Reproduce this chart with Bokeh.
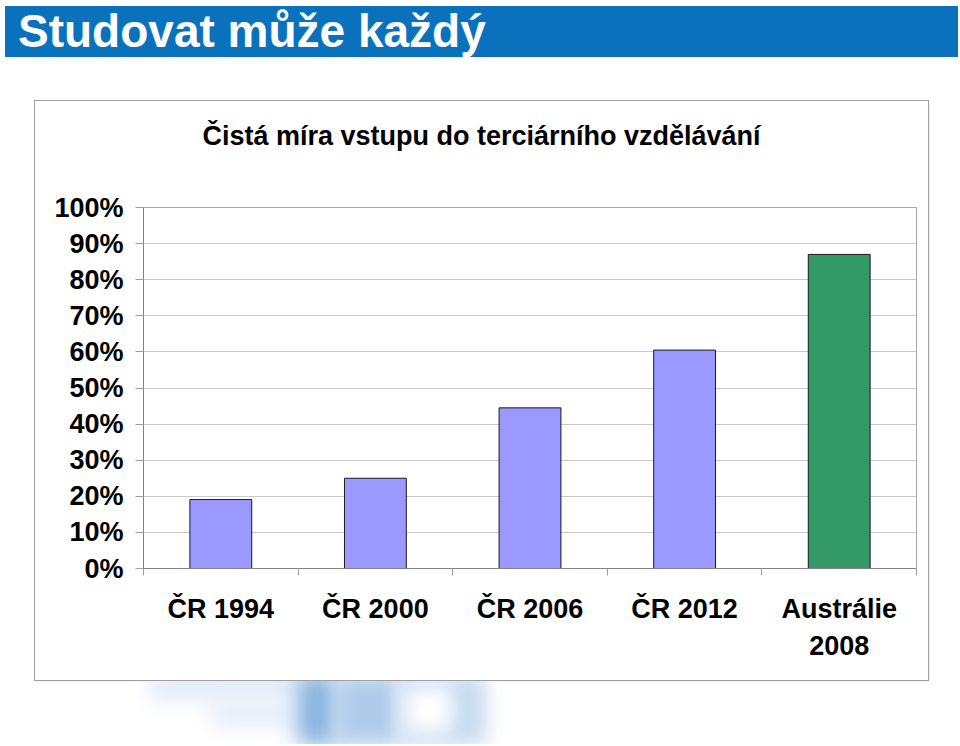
from bokeh.plotting import figure
from bokeh.models import (FactorRange, Range1d, LinearAxis, CategoricalAxis, FixedTicker,
                          NumeralTickFormatter, ColumnDataSource, Div)
from bokeh.layouts import column
from bokeh.embed import file_html
from bokeh.resources import INLINE

# ---- data ----
categories = ["ČR 1994", "ČR 2000", "ČR 2006", "ČR 2012", "Austrálie\n2008"]
values = [0.191, 0.25, 0.445, 0.605, 0.87]
bar_colors = ["#9999FF", "#9999FF", "#9999FF", "#9999FF", "#339966"]
y_ticks = [0, 0.1, 0.2, 0.3, 0.4, 0.5, 0.6, 0.7, 0.8, 0.9, 1.0]
page_title = "Studovat může každý"
chart_title = "Čistá míra vstupu do terciárního vzdělávání"

FONT = "Liberation Sans"

# ---- title bar ----
title_div = Div(
    text=('<div style="position:relative;width:953px;height:51px;background:#0A72BD;'
          'margin:0;padding:0;">'
          '<span style="position:absolute;left:13px;top:0px;line-height:51px;'
          'font-family:\'Liberation Sans\';font-weight:bold;font-size:46px;color:white;'
          'white-space:nowrap;">' + page_title + '</span></div>'),
    width=953, height=51, margin=(6, 0, 0, 5))

# ---- chart title (inside the chart box) ----
ctitle_div = Div(
    text=('<div style="position:relative;width:893px;height:60px;margin:0;padding:0;">'
          '<div style="position:absolute;left:0px;top:20px;width:893px;text-align:center;'
          'line-height:30px;font-family:\'Liberation Sans\';font-weight:bold;font-size:27px;'
          'color:black;white-space:nowrap;">' + chart_title + '</div></div>'),
    width=893, height=60, margin=(0, 0, 0, 0))

# ---- chart ----
p = figure(width=893, height=519, x_range=FactorRange(*categories), y_range=Range1d(0, 1),
           output_backend="svg", toolbar_location=None, x_axis_location=None,
           y_axis_location=None,
           min_border_left=108, min_border_right=12, min_border_top=46, min_border_bottom=112,
           margin=(0, 0, 0, 0))
p.background_fill_color = "white"
p.border_fill_color = "white"
p.outline_line_color = "#a6a6a6"
p.outline_line_width = 1

src = ColumnDataSource(dict(x=categories, top=values, color=bar_colors))
p.vbar(x="x", top="top", width=0.4, source=src, fill_color="color",
       line_color="#1a1a1a", line_width=1)

# y axis
yax = LinearAxis(ticker=FixedTicker(ticks=y_ticks), formatter=NumeralTickFormatter(format="0%"))
yax.axis_line_color = "#808080"
yax.major_tick_line_color = "#a0a0a0"
yax.major_tick_out = 8
yax.major_tick_in = 0
yax.minor_tick_line_color = None
yax.major_label_standoff = 12
yax.major_label_text_font = FONT
yax.major_label_text_font_style = "bold"
yax.major_label_text_font_size = "27px"
yax.major_label_text_color = "black"
p.add_layout(yax, "left")

p.ygrid.ticker = FixedTicker(ticks=y_ticks)
p.ygrid.grid_line_color = "#c8c8c8"
p.ygrid.grid_line_width = 1
p.xgrid.grid_line_color = None

# boundary ticks on x (synthetic category coordinates 0..N)
tax = LinearAxis(ticker=FixedTicker(ticks=list(range(len(categories) + 1))))
tax.axis_line_color = "#808080"
tax.major_tick_line_color = "#a0a0a0"
tax.major_tick_out = 7
tax.major_tick_in = 0
tax.minor_tick_line_color = None
tax.major_label_text_font_size = "0px"
tax.major_label_text_color = None
tax.major_label_standoff = 0
p.add_layout(tax, "below")

# category labels
cax = CategoricalAxis()
cax.axis_line_color = None
cax.major_tick_line_color = None
cax.minor_tick_line_color = None
cax.major_label_standoff = 12
cax.major_label_text_font = FONT
cax.major_label_text_font_style = "bold"
cax.major_label_text_font_size = "27px"
cax.major_label_text_color = "black"
cax.major_label_text_line_height = 1.25
p.add_layout(cax, "below")

chart_box = column(ctitle_div, p, spacing=0, margin=(44, 0, 0, 35),
                   styles={"outline": "1px solid #a0a0a0",
                           "box-shadow": "1px 1px 1px #b0b0b0",
                           "background": "white"})

# ---- blurred decoration under the chart ----
deco = [
    (150, -6, 150, 24, "#dfe9f6"),
    (210, 16, 90, 32, "#e8eff9"),
    (297, -6, 40, 70, "#8ab5df"),
    (335, -6, 65, 70, "#afcbe9"),
    (398, -6, 88, 70, "#c6daf0"),
    (406, 6, 46, 46, "#ffffff"),
]
inner = "".join(
    f'<div style="position:absolute;left:{l}px;top:{t}px;width:{w}px;height:{h}px;'
    f'background:{c};filter:blur(10px);"></div>' for l, t, w, h, c in deco)
deco_div = Div(text=('<div style="position:relative;width:960px;height:63px;overflow:hidden;">'
                     + inner + '</div>'), width=960, height=63, margin=(1, 0, 0, 0))

layout = column(title_div, chart_box, deco_div, spacing=0)

open("out.html", "w").write(file_html(layout, INLINE))
